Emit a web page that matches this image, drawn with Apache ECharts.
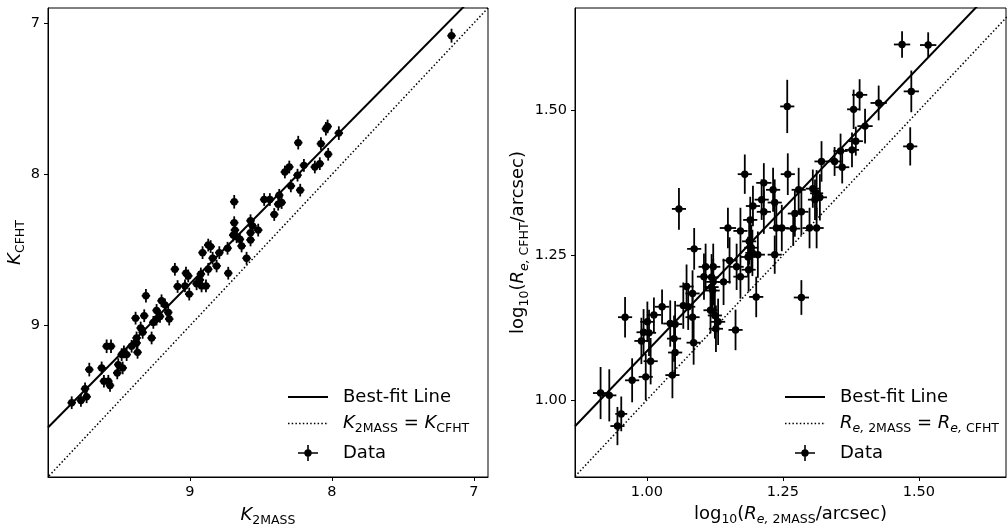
<!DOCTYPE html>
<html>
<head>
<meta charset="utf-8">
<script src="https://cdn.jsdelivr.net/npm/echarts@6/dist/echarts.min.js"></script>
<style>
html,body{margin:0;padding:0;background:#fff;}
#chart{width:1007px;height:525px;}
</style>
</head>
<body>
<div id="chart"></div>
<script>
// ---------- Left panel: K magnitudes ----------
const leftX = [7.157,7.951,8.030,8.042,8.077,8.026,8.085,8.120,8.197,8.237,8.242,8.289,8.223,8.300,8.331,8.371,8.354,8.378,8.437,8.477,8.406,8.688,8.688,8.683,8.671,8.695,8.648,8.636,8.573,8.559,8.573,8.519,8.573,8.601,8.735,8.730,8.793,8.840,8.812,8.871,8.911,8.854,8.871,8.923,8.930,8.887,8.918,8.953,9.028,9.012,9.106,9.087,9.035,9.005,9.310,9.200,9.176,9.235,9.153,9.211,9.235,9.258,9.146,9.322,9.383,9.347,9.333,9.270,9.376,9.376,9.411,9.369,9.446,9.481,9.465,9.587,9.556,9.505,9.474,9.512,9.622,9.709,9.606,9.575,9.563,9.739,9.728,9.768,9.833];
const leftY = [7.083,7.727,7.683,7.698,7.797,7.867,7.929,7.951,7.940,7.790,8.005,8.076,8.104,7.951,7.984,8.138,8.186,8.197,8.166,8.166,8.265,8.181,8.319,8.368,8.412,8.401,8.429,8.473,8.306,8.341,8.385,8.368,8.433,8.554,8.488,8.653,8.517,8.554,8.605,8.467,8.517,8.477,8.627,8.658,8.697,8.737,8.737,8.723,8.653,8.671,8.627,8.741,8.737,8.791,8.802,8.835,8.862,8.899,8.912,8.939,8.956,8.978,8.956,8.934,8.950,9.015,9.044,9.081,9.081,9.114,9.136,9.176,9.191,9.191,9.173,9.136,9.136,9.257,9.279,9.312,9.279,9.290,9.367,9.367,9.395,9.417,9.470,9.494,9.509];
const leftXErr = [0.03,0.03,0.03,0.03,0.03,0.03,0.03,0.03,0.03,0.03,0.03,0.03,0.03,0.03,0.03,0.03,0.03,0.03,0.03,0.03,0.03,0.03,0.03,0.03,0.03,0.03,0.03,0.03,0.03,0.03,0.03,0.03,0.03,0.03,0.03,0.03,0.03,0.03,0.03,0.03,0.03,0.03,0.03,0.03,0.03,0.03,0.03,0.03,0.03,0.03,0.03,0.03,0.03,0.03,0.03,0.03,0.03,0.03,0.03,0.03,0.03,0.03,0.03,0.03,0.03,0.03,0.03,0.03,0.03,0.03,0.03,0.03,0.03,0.03,0.03,0.03,0.03,0.03,0.03,0.03,0.03,0.03,0.03,0.03,0.03,0.03,0.03,0.03,0.03];
const leftYErr = [0.046,0.045,0.045,0.045,0.042,0.042,0.042,0.042,0.042,0.045,0.042,0.042,0.042,0.042,0.042,0.042,0.042,0.042,0.042,0.042,0.042,0.045,0.042,0.042,0.042,0.042,0.042,0.042,0.042,0.042,0.042,0.042,0.042,0.042,0.042,0.042,0.042,0.042,0.042,0.042,0.042,0.042,0.042,0.042,0.042,0.042,0.042,0.042,0.042,0.042,0.042,0.042,0.042,0.042,0.045,0.042,0.042,0.042,0.042,0.042,0.042,0.042,0.042,0.042,0.042,0.042,0.042,0.042,0.042,0.042,0.042,0.042,0.042,0.042,0.042,0.045,0.045,0.042,0.042,0.042,0.042,0.045,0.042,0.042,0.042,0.042,0.042,0.042,0.042];
const leftFit = [0.9497, 0.176];      // slope, intercept of best-fit line
const leftRange = [6.9, 10.0];         // axis extent (both axes)
const leftTicks = [7, 8, 9];

// ---------- Right panel: log10 effective radius ----------
const rightX = [1.469,1.517,1.486,1.484,1.426,1.391,1.380,1.401,1.384,1.377,1.356,1.345,1.359,1.321,1.258,1.259,1.180,1.215,1.232,1.279,1.305,1.312,1.318,1.309,1.211,1.235,1.195,1.215,1.190,1.059,1.149,1.172,1.238,1.248,1.269,1.272,1.284,1.299,1.312,1.188,1.192,1.087,1.194,1.204,1.235,1.186,1.152,1.165,1.108,1.122,1.187,1.172,1.105,1.119,1.122,1.141,1.073,1.084,1.119,1.121,1.201,1.284,1.076,1.067,1.084,1.117,1.125,1.131,1.127,1.028,1.013,0.960,1.001,0.994,1.004,0.990,1.043,1.052,1.050,1.052,1.086,1.163,1.007,0.973,0.998,1.047,0.915,0.931,0.953,0.946];
const rightY = [1.614,1.613,1.533,1.438,1.513,1.527,1.502,1.473,1.447,1.432,1.430,1.412,1.402,1.412,1.507,1.390,1.390,1.375,1.363,1.363,1.365,1.357,1.350,1.346,1.346,1.341,1.335,1.325,1.311,1.330,1.297,1.292,1.297,1.297,1.296,1.322,1.325,1.297,1.297,1.274,1.263,1.261,1.254,1.251,1.251,1.247,1.241,1.230,1.230,1.230,1.225,1.213,1.213,1.212,1.204,1.204,1.196,1.184,1.195,1.189,1.178,1.177,1.161,1.163,1.143,1.155,1.146,1.135,1.123,1.161,1.147,1.143,1.135,1.117,1.116,1.102,1.132,1.131,1.106,1.082,1.099,1.121,1.067,1.034,1.040,1.043,1.012,1.008,0.976,0.955];
const rightXErr = [0.015,0.015,0.014,0.013,0.015,0.014,0.012,0.014,0.013,0.013,0.013,0.013,0.013,0.013,0.013,0.013,0.013,0.014,0.013,0.013,0.013,0.012,0.013,0.013,0.013,0.013,0.013,0.013,0.013,0.013,0.015,0.013,0.013,0.013,0.013,0.013,0.013,0.013,0.013,0.013,0.013,0.013,0.013,0.013,0.013,0.013,0.013,0.013,0.013,0.013,0.013,0.013,0.013,0.013,0.013,0.013,0.013,0.013,0.013,0.013,0.013,0.014,0.013,0.013,0.013,0.013,0.013,0.013,0.013,0.013,0.013,0.013,0.013,0.013,0.013,0.013,0.013,0.013,0.013,0.013,0.013,0.013,0.013,0.013,0.013,0.013,0.014,0.013,0.011,0.013];
const rightYErr = [0.023,0.022,0.036,0.033,0.030,0.027,0.034,0.030,0.025,0.030,0.030,0.025,0.028,0.035,0.046,0.036,0.034,0.034,0.038,0.038,0.033,0.040,0.040,0.035,0.035,0.040,0.035,0.038,0.040,0.036,0.035,0.040,0.045,0.040,0.030,0.040,0.040,0.035,0.035,0.040,0.040,0.036,0.040,0.040,0.033,0.035,0.040,0.040,0.040,0.040,0.038,0.038,0.040,0.040,0.040,0.040,0.038,0.040,0.040,0.040,0.035,0.030,0.040,0.040,0.040,0.040,0.040,0.040,0.040,0.030,0.030,0.035,0.035,0.040,0.040,0.040,0.040,0.040,0.040,0.040,0.038,0.035,0.040,0.038,0.040,0.040,0.045,0.045,0.030,0.033];
const rightFit = [0.9815, 0.1027];
const rightXRange = [0.868, 1.660];
const rightYRange = [0.867, 1.677];
const rightTicks = [1.00, 1.25, 1.50];

// ---------- helpers ----------
function zip4(a,b,c,d){ return a.map((v,i)=>[v,b[i],c[i],d[i]]); }
function fitLine(fit, range){ return [[range[0], fit[0]*range[0]+fit[1]], [range[1], fit[0]*range[1]+fit[1]]]; }

const FONT = 'DejaVu Sans';
const richStyles = {
  n:  {fontFamily: FONT, fontSize: 18, color: '#000', lineHeight: 24},
  i:  {fontFamily: FONT, fontSize: 18, color: '#000', fontStyle: 'italic', lineHeight: 24},
  s:  {fontFamily: FONT, fontSize: 12.5, color: '#000', lineHeight: 12, verticalAlign: 'bottom'},
  si: {fontFamily: FONT, fontSize: 12.5, color: '#000', fontStyle: 'italic', lineHeight: 12, verticalAlign: 'bottom'},
  g:  {fontFamily: FONT, fontSize: 18, width: 10, lineHeight: 24}
};

function renderErr(params, api){
  const x = api.value(0), y = api.value(1), xe = api.value(2), ye = api.value(3);
  const c = api.coord([x, y]);
  const l = api.coord([x - xe, y]), r = api.coord([x + xe, y]);
  const t = api.coord([x, y + ye]), b = api.coord([x, y - ye]);
  const st = {stroke: '#000', lineWidth: 1.8};
  return {type: 'group', children: [
    {type: 'line', shape: {x1: l[0], y1: l[1], x2: r[0], y2: r[1]}, style: st},
    {type: 'line', shape: {x1: t[0], y1: t[1], x2: b[0], y2: b[1]}, style: st},
    {type: 'circle', shape: {cx: c[0], cy: c[1], r: 3.7}, style: {fill: '#000'}}
  ]};
}

// legend icons (pure styling)
const dataIcon = 'path://M0,7.2 L20,7.2 L20,8.8 L0,8.8 Z M9.2,0 L10.8,0 L10.8,16 L9.2,16 Z M6.3,8 A3.7,3.7 0 1,1 13.7,8 A3.7,3.7 0 1,1 6.3,8 Z';
const solidIcon = 'path://M0,0 L40,0 L40,2 L0,2 Z';
let dotted = '';
for (let p = 0; p + 1.5 <= 40.01; p += 3.7) { dotted += 'M' + p.toFixed(2) + ',0 h1.5 v1.5 h-1.5 Z '; }
const dottedIcon = 'path://' + dotted + 'M39.9,0 L40,0 L40,1.5 L39.9,1.5 Z';

const legendNames = {
  'Best-fit Line': '{g| }{n|Best-fit Line}',
  'Kequal': '{g| }{i|K}{s|2MASS}{n| = }{i|K}{s|CFHT}',
  'Requal': '{g| }{i|R}{si|e,}{s| 2MASS}{n| = }{i|R}{si|e,}{s| CFHT}',
  'Data': '{g| }{n|Data}'
};

function axisCommon(){
  return {
    axisLine: {show: true, onZero: false, lineStyle: {color: '#000', width: 1}},
    splitLine: {show: false},
    nameTextStyle: {rich: richStyles}
  };
}

function legendFor(left, eqName){
  return {
    orient: 'vertical', left: left, top: 388, padding: 0, itemWidth: 40, itemHeight: 16, itemGap: 8.5,
    data: [{name: 'Best-fit Line', icon: solidIcon}, {name: eqName, icon: dottedIcon}, {name: 'Data', icon: dataIcon}],
    formatter: name => legendNames[name],
    textStyle: {rich: richStyles}, selectedMode: false
  };
}

const option = {
  animation: false,
  backgroundColor: '#fff',
  grid: [
    {left: 48, top: 8, width: 440, height: 469, show: true, borderColor: '#000', borderWidth: 1, backgroundColor: 'transparent', outerBoundsMode: 'none', containLabel: false},
    {left: 575, top: 8, width: 431, height: 469, show: true, borderColor: '#000', borderWidth: 1, backgroundColor: 'transparent', outerBoundsMode: 'none', containLabel: false}
  ],
  xAxis: [
    Object.assign(axisCommon(), {
      gridIndex: 0, type: 'value', inverse: true, min: leftRange[0], max: leftRange[1],
      axisTick: {customValues: leftTicks, length: 4, lineStyle: {color: '#000'}},
      axisLabel: {customValues: leftTicks, margin: 8, fontFamily: FONT, fontSize: 14.5, color: '#000', formatter: v => String(v)},
      name: '{i|K}{s|2MASS}', nameLocation: 'middle', nameGap: 26
    }),
    Object.assign(axisCommon(), {
      gridIndex: 1, type: 'value', min: rightXRange[0], max: rightXRange[1],
      axisTick: {customValues: rightTicks, length: 4, lineStyle: {color: '#000'}},
      axisLabel: {customValues: rightTicks, margin: 8, fontFamily: FONT, fontSize: 14.5, color: '#000', formatter: v => v.toFixed(2)},
      name: '{n|log}{s|10}{n|(}{i|R}{si|e,}{s| 2MASS}{n|/arcsec)}', nameLocation: 'middle', nameGap: 25
    })
  ],
  yAxis: [
    Object.assign(axisCommon(), {
      gridIndex: 0, type: 'value', inverse: true, min: leftRange[0], max: leftRange[1],
      axisTick: {customValues: leftTicks, length: 4, lineStyle: {color: '#000'}},
      axisLabel: {customValues: leftTicks, margin: 8, fontFamily: FONT, fontSize: 14.5, color: '#000', formatter: v => String(v)},
      name: '{i|K}{s|CFHT}', nameLocation: 'middle', nameGap: 16
    }),
    Object.assign(axisCommon(), {
      gridIndex: 1, type: 'value', min: rightYRange[0], max: rightYRange[1],
      axisTick: {customValues: rightTicks, length: 4, lineStyle: {color: '#000'}},
      axisLabel: {customValues: rightTicks, margin: 8, fontFamily: FONT, fontSize: 14.5, color: '#000', formatter: v => v.toFixed(2)},
      name: '{n|log}{s|10}{n|(}{i|R}{si|e,}{s| CFHT}{n|/arcsec)}', nameLocation: 'middle', nameGap: 44
    })
  ],
  legend: [legendFor(288, 'Kequal'), legendFor(785, 'Requal')],
  series: [
    {name: 'Best-fit Line', type: 'line', xAxisIndex: 0, yAxisIndex: 0, data: fitLine(leftFit, leftRange), symbol: 'none', clip: true,
     lineStyle: {color: '#000', width: 2}, itemStyle: {color: '#000'}, z: 3},
    {name: 'Kequal', type: 'line', xAxisIndex: 0, yAxisIndex: 0, data: [[leftRange[0], leftRange[0]], [leftRange[1], leftRange[1]]], symbol: 'none', clip: true,
     lineStyle: {color: '#000', width: 1.5, type: [1.5, 2.2]}, itemStyle: {color: '#000'}, z: 3},
    {name: 'Data', type: 'custom', xAxisIndex: 0, yAxisIndex: 0, data: zip4(leftX, leftY, leftXErr, leftYErr),
     encode: {x: 0, y: 1}, renderItem: renderErr, itemStyle: {color: '#000'}, clip: true, z: 4},
    {name: 'Best-fit Line', type: 'line', xAxisIndex: 1, yAxisIndex: 1, data: fitLine(rightFit, rightXRange), symbol: 'none', clip: true,
     lineStyle: {color: '#000', width: 2}, itemStyle: {color: '#000'}, z: 3},
    {name: 'Requal', type: 'line', xAxisIndex: 1, yAxisIndex: 1, data: [[rightXRange[0], rightXRange[0]], [rightYRange[1], rightYRange[1]]], symbol: 'none', clip: true,
     lineStyle: {color: '#000', width: 1.5, type: [1.5, 2.2]}, itemStyle: {color: '#000'}, z: 3},
    {name: 'Data', type: 'custom', xAxisIndex: 1, yAxisIndex: 1, data: zip4(rightX, rightY, rightXErr, rightYErr),
     encode: {x: 0, y: 1}, renderItem: renderErr, itemStyle: {color: '#000'}, clip: true, z: 4}
  ]
};

const chart = echarts.init(document.getElementById('chart'), null, {renderer: 'canvas'});
chart.setOption(option);
</script>
</body>
</html>
